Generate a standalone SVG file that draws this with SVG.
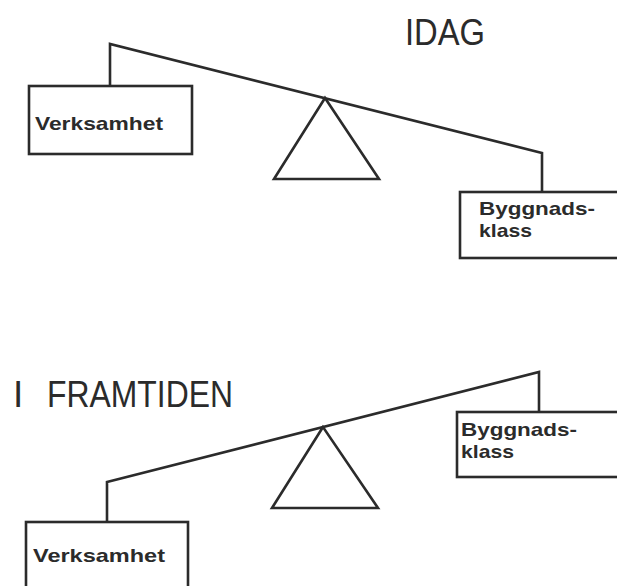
<svg xmlns="http://www.w3.org/2000/svg" width="617" height="586" viewBox="0 0 617 586">
<style>
.ln{fill:none;stroke:#2b2b2b;stroke-width:2.6;stroke-linejoin:miter;stroke-linecap:square}
.box{fill:#fff;stroke:#2b2b2b;stroke-width:2.6}
.lbl{font-family:"Liberation Sans",Arial,sans-serif;font-weight:bold;font-size:19px;fill:#2b2b2b}
.ttl{font-family:"Liberation Sans",Arial,sans-serif;font-size:37px;fill:#2b2b2b}
</style>
<rect width="617" height="586" fill="#fff"/>
<g id="connectors">
<polyline class="ln" points="110,86 110,44 542,153 542,192"/>
<polyline class="ln" points="107,522 107,482 539,372 539,412"/>
</g>
<g id="title-idag"><text class="ttl" x="405" y="45" textLength="80" lengthAdjust="spacingAndGlyphs">IDAG</text></g>
<g id="fulcrum-top"><polygon class="ln" points="325,98 274,179 379,179"/></g>
<g id="verksamhet-top">
<rect class="box" x="29" y="86" width="163" height="68"/>
<text class="lbl" x="35" y="130" font-size="23" textLength="128" lengthAdjust="spacingAndGlyphs">Verksamhet</text>
</g>
<g id="byggnadsklass-top">
<rect class="box" x="460" y="192" width="170" height="66"/>
<text class="lbl" x="479" y="215" textLength="116" lengthAdjust="spacingAndGlyphs">Byggnads-</text>
<text class="lbl" x="479" y="237" textLength="53" lengthAdjust="spacingAndGlyphs">klass</text>
</g>
<g id="title-framtiden"><text class="ttl" x="13" y="407">I</text><text class="ttl" x="47" y="407" textLength="186" lengthAdjust="spacingAndGlyphs">FRAMTIDEN</text></g>
<g id="fulcrum-bottom"><polygon class="ln" points="323,427 272,508 378,508"/></g>
<g id="byggnadsklass-bottom">
<rect class="box" x="457" y="412" width="173" height="65"/>
<text class="lbl" x="461" y="436" textLength="116" lengthAdjust="spacingAndGlyphs">Byggnads-</text>
<text class="lbl" x="461" y="458" textLength="53" lengthAdjust="spacingAndGlyphs">klass</text>
</g>
<g id="verksamhet-bottom">
<rect class="box" x="26" y="522" width="162" height="80"/>
<text class="lbl" x="33" y="562" font-size="23" textLength="132" lengthAdjust="spacingAndGlyphs">Verksamhet</text>
</g>
</svg>
